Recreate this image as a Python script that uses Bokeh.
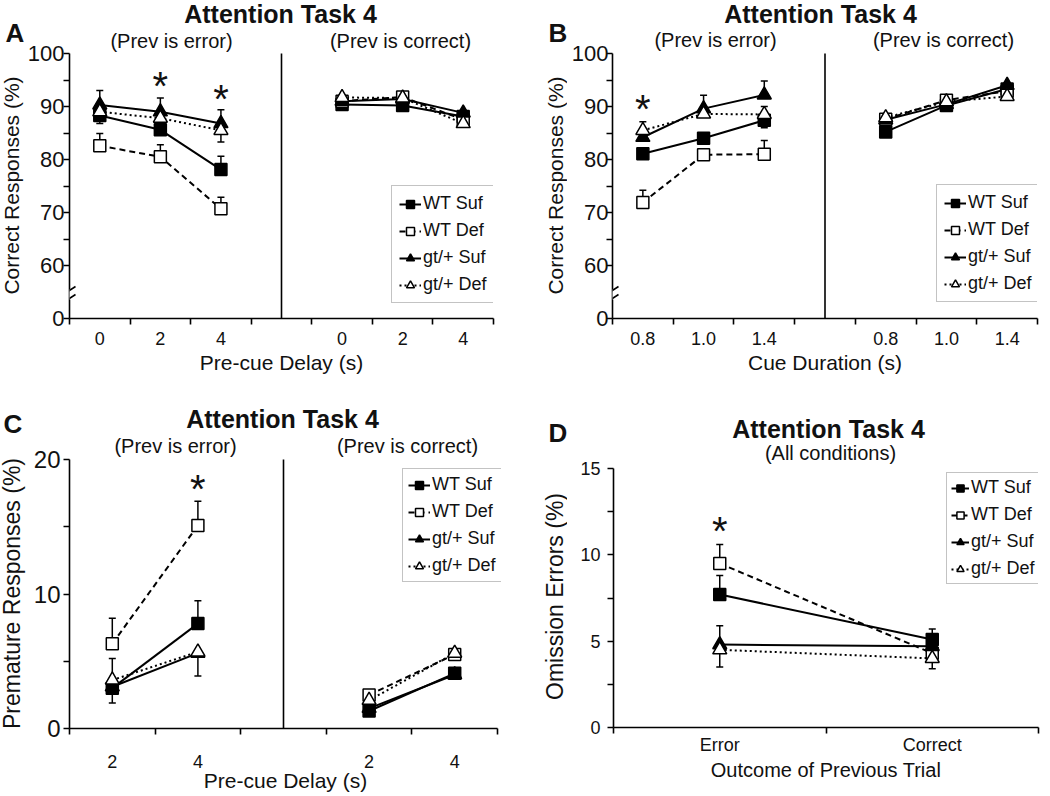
from bokeh.plotting import figure
from bokeh.models import LinearAxis, FixedTicker, Legend, LegendItem, Arrow, Range1d
from bokeh.layouts import row, column
from bokeh.core.properties import value
from bokeh.embed import file_html
from bokeh.resources import INLINE

FONT = "Liberation Sans"
SERIES = ["WT Suf", "WT Def", "gt/+ Suf", "gt/+ Def"]

# ---------------- Panel A : Correct responses vs pre-cue delay ----------------
a_ticks = ["0", "2", "4"]
a_err_wt_suf = [88.3, 85.6, 78.1]
a_err_wt_def = [82.6, 80.5, 70.7]
a_err_gt_suf = [90.3, 89.0, 86.8]
a_err_gt_def = [89.0, 87.8, 85.5]
a_cor_wt_suf = [90.4, 90.2, 88.1]
a_cor_wt_def = [91.0, 91.8, 87.5]
a_cor_gt_suf = [91.0, 91.4, 88.8]
a_cor_gt_def = [91.7, 91.6, 86.8]
a_bar_wt_suf = [None, None, 80.6]
a_bar_wt_def = [84.9, 82.8, 72.9]
a_bar_gt_suf = [93.0, 91.6, 89.4]
a_bar_gt_def = [86.8, None, 83.3]
a_star = [94.6, 92.1]

# ---------------- Panel B : Correct responses vs cue duration ----------------
b_ticks = ["0.8", "1.0", "1.4"]
b_err_wt_suf = [81.1, 84.0, 87.4]
b_err_wt_def = [71.9, 80.9, 81.0]
b_err_gt_suf = [84.2, 89.6, 92.2]
b_err_gt_def = [85.5, 88.6, 88.5]
b_cor_wt_suf = [85.2, 90.2, 93.3]
b_cor_wt_def = [87.6, 91.2, 92.9]
b_cor_gt_suf = [87.5, 90.4, 94.0]
b_cor_gt_def = [87.9, 90.9, 91.9]
b_bar_wt_suf = [None, None, 86.0]
b_bar_wt_def = [74.2, None, 83.6]
b_bar_gt_suf = [None, 92.1, 94.8]
b_bar_gt_def = [87.1, None, 90.0]
b_star = [90.2]

# ---------------- Panel C : Premature responses ----------------
c_ticks = ["2", "4"]
c_err_wt_suf = [3.0, 7.8]
c_err_wt_def = [6.3, 15.1]
c_err_gt_suf = [3.1, 5.6]
c_err_gt_def = [3.6, 5.7]
c_cor_wt_suf = [1.3, 4.1]
c_cor_wt_def = [2.5, 5.5]
c_cor_gt_suf = [1.5, 4.0]
c_cor_gt_def = [2.1, 5.6]
c_bar_wt_suf = [1.9, 9.5]
c_bar_wt_def = [8.2, 16.9]
c_bar_gt_suf = [None, None]
c_bar_gt_def = [5.2, 3.9]
c_star = [18.1]

# ---------------- Panel D : Omission errors ----------------
d_ticks = ["Error", "Correct"]
d_wt_suf = [7.7, 5.1]
d_wt_def = [9.5, 4.3]
d_gt_suf = [4.8, 4.7]
d_gt_def = [4.5, 4.0]
d_bar_wt_suf = [8.8, 5.7]
d_bar_wt_def = [10.6, None]
d_bar_gt_suf = [5.9, None]
d_bar_gt_def = [3.5, 3.4]
d_star = [11.6]

STYLE = {
    "WT Suf": dict(marker="square", fill="black", dash="solid", size=12),
    "WT Def": dict(marker="square", fill="white", dash="6 4", size=12),
    "gt/+ Suf": dict(marker="triangle", fill="black", dash="solid", size=14),
    "gt/+ Def": dict(marker="triangle", fill="white", dash="2 3", size=14),
}


def px2d(spec, px, py):
    fl, ft, fw, fh, x0, x1, y0, y1 = spec
    return x0 + (px - fl) / fw * (x1 - x0), y1 - (py - ft) / fh * (y1 - y0)


def txt(p, spec, text, px, py, size, bold=False, align="center", rotated=False):
    # (px, py) is the page position of the text baseline; anchor on the em-box centre
    if rotated:
        x, y = px2d(spec, px - 0.36 * size, py)
        ang = 1.5708
    else:
        x, y = px2d(spec, px, py - 0.36 * size)
        ang = 0.0
    p.text(x=[x], y=[y], text=[text], text_font=value(FONT), text_font_size=value(f"{size}px"),
           text_font_style="bold" if bold else "normal", text_align=align,
           text_baseline="middle", angle=ang, text_color="#111")


def bare(width, height):
    p = figure(frame_width=width, frame_height=height,
               min_border_left=0, min_border_right=0, min_border_top=0, min_border_bottom=0,
               x_range=Range1d(0, width), y_range=Range1d(0, height),
               x_axis_type=None, y_axis_type=None, output_backend="svg", toolbar_location=None)
    p.outline_line_color = None
    p.background_fill_color = "white"
    p.border_fill_color = "white"
    return p


def make_panel(spec, borders, xbounds, ybounds, xmaj, xlabels, xminor, ymaj, ylabels, yminor,
               xfs, xstand, yfs, ystand, xlabel, xlab_fs, xlab_stand, groups, stars, legend_loc,
               leg_pad, leg_glyph, sep):
    fl, ft, fw, fh, x0, x1, y0, y1 = spec
    p = figure(frame_width=fw, frame_height=fh, min_border_left=borders[0],
               min_border_right=borders[1], min_border_top=borders[2], min_border_bottom=borders[3],
               x_range=Range1d(x0, x1), y_range=Range1d(y0, y1), x_axis_type=None, y_axis_type=None,
               output_backend="svg", toolbar_location=None)
    p.outline_line_color = None
    p.background_fill_color = "white"
    p.border_fill_color = "white"

    xa = LinearAxis(ticker=FixedTicker(ticks=xmaj, minor_ticks=xminor), bounds=xbounds,
                    major_label_overrides={float(k): v for k, v in zip(xmaj, xlabels)},
                    axis_label=xlabel)
    ya = LinearAxis(ticker=FixedTicker(ticks=ymaj, minor_ticks=yminor), bounds=ybounds,
                    major_label_overrides={float(k): v for k, v in zip(ymaj, ylabels)})
    for ax, fs, st in ((xa, xfs, xstand), (ya, yfs, ystand)):
        ax.axis_line_color = "black"
        ax.axis_line_width = 1.6
        ax.major_tick_line_color = "black"
        ax.minor_tick_line_color = "black"
        ax.major_tick_line_width = 1.6
        ax.minor_tick_line_width = 1.6
        ax.major_tick_in = 0
        ax.minor_tick_in = 0
        ax.major_label_text_font = FONT
        ax.major_label_text_font_size = f"{fs}px"
        ax.major_label_text_color = "#111"
        ax.major_label_standoff = st
    xa.major_tick_out = 0
    xa.minor_tick_out = 6
    ya.major_tick_out = 6
    ya.minor_tick_out = 6
    xa.axis_label_text_font = FONT
    xa.axis_label_text_font_size = f"{xlab_fs}px"
    xa.axis_label_text_font_style = "normal"
    xa.axis_label_text_color = "#111"
    xa.axis_label_standoff = xlab_stand
    p.add_layout(xa, "below")
    p.add_layout(ya, "left")

    if sep is not None:
        p.segment(x0=[sep], y0=[ybounds[0]], x1=[sep], y1=[ybounds[1]], line_color="black", line_width=1.6)

    # error bars
    bx0, by0, by1 = [], [], []
    for xs, vals, bars in groups:
        for s in SERIES:
            for x, v, b in zip(xs, vals[s], bars.get(s, [None] * len(xs))):
                if b is not None:
                    bx0.append(x)
                    by0.append(v)
                    by1.append(b)
    if bx0:
        p.segment(x0=bx0, y0=by0, x1=bx0, y1=by1, line_color="black", line_width=1.5)
        p.scatter(x=bx0, y=by1, marker="dash", size=7, line_color="black", line_width=1.5)

    lines, marks = {}, {}
    for gi, (xs, vals, bars) in enumerate(groups):
        for s in SERIES:
            st = STYLE[s]
            r = p.line(x=xs, y=vals[s], line_color="black", line_width=2, line_dash=st["dash"])
            if gi == 0:
                lines[s] = r
    for gi, (xs, vals, bars) in enumerate(groups):
        for s in SERIES:
            st = STYLE[s]
            r = p.scatter(x=xs, y=vals[s], marker=st["marker"], size=st["size"],
                          fill_color=st["fill"], line_color="black", line_width=1.5)
            if gi == 0:
                marks[s] = r

    sx, sy = stars
    p.text(x=sx, y=sy, text=["*"] * len(sx), text_font=value(FONT), text_font_size=value("40px"),
           text_align="center", text_baseline="middle", y_offset=4, text_color="#111")

    leg = Legend(items=[LegendItem(label=value(s), renderers=[lines[s], marks[s]]) for s in SERIES],
                 location=legend_loc)
    leg.label_text_font = FONT
    leg.label_text_font_size = "18px"
    leg.label_text_color = "#111"
    leg.glyph_width = leg_glyph
    leg.glyph_height = 20
    leg.label_height = 20
    leg.label_standoff = 2
    leg.spacing = 6
    leg.padding = leg_pad
    leg.margin = 0
    leg.border_line_color = "#888888"
    leg.border_line_width = 1.5
    leg.background_fill_color = "white"
    leg.background_fill_alpha = 1.0
    p.add_layout(leg)
    return p


def break_marks(p, spec, ax_px, cy):
    x0, y0 = px2d(spec, ax_px, cy - 5)
    x1, y1 = px2d(spec, ax_px, cy + 5)
    p.add_layout(Arrow(end=None, x_start=x0, y_start=y0, x_end=x1, y_end=y1,
                       line_color="white", line_width=5))
    for dy in (-4, 4):
        xa_, ya_ = px2d(spec, ax_px - 6, cy + dy + 4)
        xb_, yb_ = px2d(spec, ax_px + 6, cy + dy - 4)
        p.add_layout(Arrow(end=None, x_start=xa_, y_start=ya_, x_end=xb_, y_end=yb_,
                           line_color="black", line_width=1.6))


def yspan(v_lo, p_lo, v_hi, p_hi, top_px, bottom_px):
    k = (v_hi - v_lo) / (p_lo - p_hi)
    return v_lo - (bottom_px - p_lo) * k, v_hi + (p_hi - top_px) * k


TOP_H = 390
BOT_H = 405

# ---------------- panel A ----------------
ya0, ya1 = yspan(50, 318, 100, 53, 0, 318)
specA = (69, 0, 424, 318, 0, 7, ya0, ya1)
pA = make_panel(specA, (45, 32, 0, TOP_H - 318), (0, 7), (50, 100),
                [0.5, 1.5, 2.5, 4.5, 5.5, 6.5], a_ticks + a_ticks, [0, 1, 2, 3, 4, 5, 6, 7],
                [50, 60, 70, 80, 90, 100], ["0", "60", "70", "80", "90", "100"], [65, 75, 85, 95],
                18, 7, 22, -1, "Pre-cue Delay (s)", 21, 3,
                [([0.5, 1.5, 2.5],
                  {"WT Suf": a_err_wt_suf, "WT Def": a_err_wt_def, "gt/+ Suf": a_err_gt_suf, "gt/+ Def": a_err_gt_def},
                  {"WT Suf": a_bar_wt_suf, "WT Def": a_bar_wt_def, "gt/+ Suf": a_bar_gt_suf, "gt/+ Def": a_bar_gt_def}),
                 ([4.5, 5.5, 6.5],
                  {"WT Suf": a_cor_wt_suf, "WT Def": a_cor_wt_def, "gt/+ Suf": a_cor_gt_suf, "gt/+ Def": a_cor_gt_def},
                  {})],
                ([1.5, 2.5], a_star), (322, 15), 7, 22, 3.5)
break_marks(pA, specA, 69, 294)
txt(pA, specA, "Attention Task 4", 280, 22, 25, bold=True)
txt(pA, specA, "(Prev is error)", 171, 48, 20)
txt(pA, specA, "(Prev is correct)", 400, 48, 20)
sA = bare(24, TOP_H)
specSA = (0, 0, 24, TOP_H, 0, 24, 0, TOP_H)
txt(sA, specSA, "A", 5, 42, 26, bold=True, align="left")
txt(sA, specSA, "Correct Responses (%)", 19, 185, 21, rotated=True)

# ---------------- panel B ----------------
specB = (612, 0, 425, 318, 0, 7, ya0, ya1)
pB = make_panel(specB, (45, 13, 0, TOP_H - 318), (0, 7), (50, 100),
                [0.5, 1.5, 2.5, 4.5, 5.5, 6.5], b_ticks + b_ticks, [0, 1, 2, 3, 4, 5, 6, 7],
                [50, 60, 70, 80, 90, 100], ["0", "60", "70", "80", "90", "100"], [65, 75, 85, 95],
                18, 7, 22, -2, "Cue Duration (s)", 21, 3,
                [([0.5, 1.5, 2.5],
                  {"WT Suf": b_err_wt_suf, "WT Def": b_err_wt_def, "gt/+ Suf": b_err_gt_suf, "gt/+ Def": b_err_gt_def},
                  {"WT Suf": b_bar_wt_suf, "WT Def": b_bar_wt_def, "gt/+ Suf": b_bar_gt_suf, "gt/+ Def": b_bar_gt_def}),
                 ([4.5, 5.5, 6.5],
                  {"WT Suf": b_cor_wt_suf, "WT Def": b_cor_wt_def, "gt/+ Suf": b_cor_gt_suf, "gt/+ Def": b_cor_gt_def},
                  {})],
                ([0.5], b_star), (324, 16), 7, 22, 3.5)
break_marks(pB, specB, 612, 294)
txt(pB, specB, "Attention Task 4", 820, 22, 25, bold=True)
txt(pB, specB, "(Prev is error)", 715, 47, 20)
txt(pB, specB, "(Prev is correct)", 943, 47, 20)
sB = bare(42, TOP_H)
specSB = (525, 0, 42, TOP_H, 0, 42, 0, TOP_H)
txt(sB, specSB, "B", 548, 42, 26, bold=True, align="left")
txt(sB, specSB, "Correct Responses (%)", 563, 185, 21, rotated=True)

# ---------------- panel C ----------------
yc0, yc1 = yspan(0, 728, 20, 459, 390, 728)
specC = (69, 390, 432, 338, 0, 5 * 432 / 428, yc0, yc1)
pC = make_panel(specC, (39, 24, 0, BOT_H - 338), (0, 5), (0, 20),
                [0.5, 1.5, 3.5, 4.5], c_ticks + c_ticks, [0, 1, 2, 3, 4, 5],
                [0, 10, 20], ["0", "10", "20"], [5, 15],
                18, 20, 24, 3, "Pre-cue Delay (s)", 21, -2,
                [([0.5, 1.5],
                  {"WT Suf": c_err_wt_suf, "WT Def": c_err_wt_def, "gt/+ Suf": c_err_gt_suf, "gt/+ Def": c_err_gt_def},
                  {"WT Suf": c_bar_wt_suf, "WT Def": c_bar_wt_def, "gt/+ Suf": c_bar_gt_suf, "gt/+ Def": c_bar_gt_def}),
                 ([3.5, 4.5],
                  {"WT Suf": c_cor_wt_suf, "WT Def": c_cor_wt_def, "gt/+ Suf": c_cor_gt_suf, "gt/+ Def": c_cor_gt_def},
                  {})],
                ([1.5], c_star), (333, 146), 5, 22, 2.5)
txt(pC, specC, "Attention Task 4", 282, 427, 25, bold=True)
txt(pC, specC, "(Prev is error)", 175, 453, 20)
txt(pC, specC, "(Prev is correct)", 407, 453, 20)
sC = bare(30, BOT_H)
specSC = (0, 390, 30, BOT_H, 0, 30, 0, BOT_H)
txt(sC, specSC, "C", 3, 433, 26, bold=True, align="left")
txt(sC, specSC, "Premature Responses (%)", 20, 593, 23, rotated=True)

# ---------------- panel D ----------------
yd0, yd1 = yspan(0, 727, 15, 468, 390, 727)
specD = (613, 390, 425, 337, 0, 2, yd0, yd1)
pD = make_panel(specD, (46, 12, 0, BOT_H - 337), (0, 2), (0, 15),
                [0.5, 1.5], d_ticks, [0, 1, 2],
                [0, 5, 10, 15], ["0", "5", "10", "15"], [2.5, 7.5, 12.5],
                18, 1, 18, 7, "Outcome of Previous Trial", 20, 1,
                [([0.5, 1.5],
                  {"WT Suf": d_wt_suf, "WT Def": d_wt_def, "gt/+ Suf": d_gt_suf, "gt/+ Def": d_gt_def},
                  {"WT Suf": d_bar_wt_suf, "WT Def": d_bar_wt_def, "gt/+ Suf": d_bar_gt_suf, "gt/+ Def": d_bar_gt_def})],
                ([0.5], d_star), (333, 143), 4, 18, None)
txt(pD, specD, "Attention Task 4", 828, 437, 25, bold=True)
txt(pD, specD, "(All conditions)", 830, 460, 20)
sD = bare(42, BOT_H)
specSD = (525, 390, 42, BOT_H, 0, 42, 0, BOT_H)
txt(sD, specSD, "D", 548, 442, 26, bold=True, align="left")
txt(sD, specSD, "Omission Errors (%)", 563, 596, 23, rotated=True)

layout = column(row(sA, pA, sB, pB), row(sC, pC, sD, pD))
open("out.html", "w").write(file_html(layout, INLINE))
